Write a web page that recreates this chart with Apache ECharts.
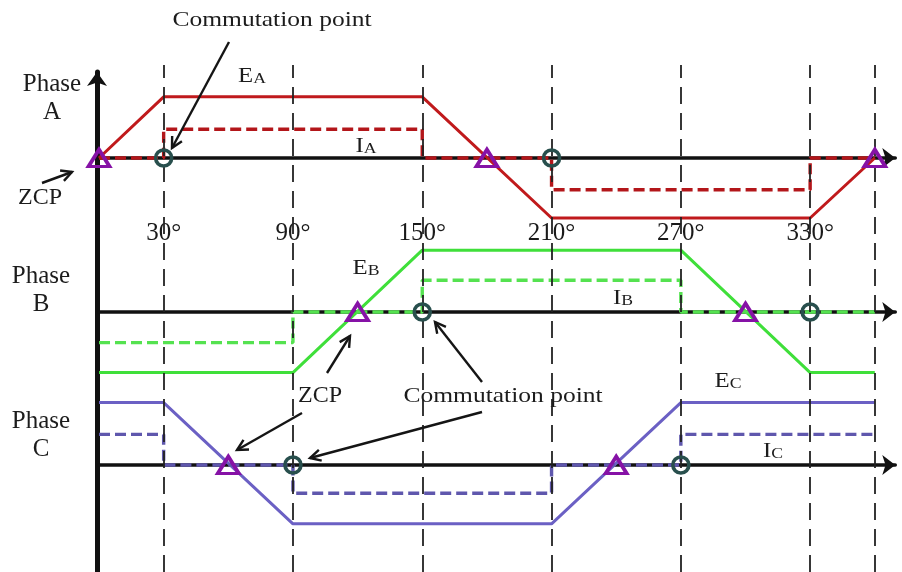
<!DOCTYPE html>
<html>
<head>
<meta charset="utf-8">
<script src="https://cdn.jsdelivr.net/npm/echarts@6/dist/echarts.min.js"></script>
<style>
  html, body { margin: 0; padding: 0; background: #ffffff; }
  #chart { width: 902px; height: 572px; }
</style>
</head>
<body>
<div id="chart"></div>
<script>
// Back-EMF breakpoints: electrical angle (deg) and level (per unit)
const emfAnglesA = [0, 30, 150, 210, 330, 360];
const emfA       = [0, 1.02, 1.02, -1.0, -1.0, 0];
const emfAnglesB = [0, 90, 150, 270, 330, 360];
const emfB       = [-1.01, -1.01, 1.03, 1.03, -1.01, -1.01];
const emfAnglesC = [0, 30, 90, 210, 270, 360];
const emfC       = [1.04, 1.04, -0.98, -0.98, 1.04, 1.04];

// Phase currents, stepping at the commutation angles
const curAnglesA = [0, 30, 150, 210, 330, 360];
const curA       = [0, 0.48, 0, -0.53, 0, 0];
const curAnglesB = [0, 90, 150, 270, 360];
const curB       = [-0.51, 0, 0.53, 0, 0];
const curAnglesC = [0, 30, 90, 210, 270, 360];
const curC       = [0.51, 0, -0.47, 0, 0.51, 0.51];

// Back-EMF zero crossings (ZCP) and commutation points, in degrees
const zcpA  = [0, 180, 360];
const zcpB  = [120, 300];
const zcpC  = [60, 240];
const commA = [30, 210];
const commB = [150, 330];
const commC = [90, 270];

// Dashed reference angles and the angle tick labels
const refAngles  = [30, 90, 150, 210, 270, 330, 360];
const tickAngles = [30, 90, 150, 210, 270, 330];

// ---- layout ----
const X0 = 99;            // pixel of 0 deg
const PX_DEG = 2.155;     // pixels per degree
const X_END = 369.5;      // axis runs a bit past 360 deg to hold the arrow
const GRID_W = X_END * PX_DEG;
const Y_SPAN = 1.3;       // per-unit half range of each phase panel
const PX_UNIT = 60;
const baselines = [158, 312, 465];
const SERIF = "'Liberation Serif', 'Times New Roman', serif";

const phases = [
  { emfX: emfAnglesA, emf: emfA, curX: curAnglesA, cur: curA, zcp: zcpA, comm: commA,
    emfColor: '#c01a1c', curColor: '#b3161a' },
  { emfX: emfAnglesB, emf: emfB, curX: curAnglesB, cur: curB, zcp: zcpB, comm: commB,
    emfColor: '#3fdf3a', curColor: '#55e250' },
  { emfX: emfAnglesC, emf: emfC, curX: curAnglesC, cur: curC, zcp: zcpC, comm: commC,
    emfColor: '#6b60c4', curColor: '#5f57ad' }
];

const zip = (xs, ys) => xs.map((x, i) => [x, ys[i]]);

const grid = [], xAxis = [], yAxis = [], series = [];

phases.forEach((p, i) => {
  grid.push({ left: X0, width: GRID_W, top: baselines[i] - Y_SPAN * PX_UNIT, height: 2 * Y_SPAN * PX_UNIT });
  xAxis.push({
    gridIndex: i, type: 'value', min: 0, max: X_END,
    axisLine: { show: true, onZero: true, symbol: ['none', 'arrow'], symbolSize: [15, 13],
                lineStyle: { color: '#111', width: 3.5 } },
    axisTick: { show: false }, axisLabel: { show: false }, splitLine: { show: false }
  });
  yAxis.push({
    gridIndex: i, type: 'value', min: -Y_SPAN, max: Y_SPAN,
    axisLine: { show: false }, axisTick: { show: false }, axisLabel: { show: false }, splitLine: { show: false }
  });
  series.push({
    type: 'line', xAxisIndex: i, yAxisIndex: i, data: zip(p.emfX, p.emf),
    symbol: 'none', lineStyle: { color: p.emfColor, width: 3 }, z: 3, silent: true
  });
  series.push({
    type: 'line', xAxisIndex: i, yAxisIndex: i, data: zip(p.curX, p.cur), step: 'end',
    symbol: 'none', lineStyle: { color: p.curColor, width: 3.4, type: [11, 5] }, z: 4, silent: true
  });
  series.push({
    type: 'scatter', xAxisIndex: i, yAxisIndex: i, data: p.zcp.map(a => [a, 0]),
    symbol: 'triangle', symbolSize: [21, 17],
    itemStyle: { color: 'rgba(0,0,0,0)', borderColor: '#8612a6', borderWidth: 3.6, opacity: 1 },
    z: 6, silent: true
  });
  series.push({
    type: 'scatter', xAxisIndex: i, yAxisIndex: i, data: p.comm.map(a => [a, 0]),
    symbol: 'circle', symbolSize: 16,
    itemStyle: { color: 'rgba(0,0,0,0)', borderColor: '#284f4d', borderWidth: 3.6, opacity: 1 },
    z: 6, silent: true
  });
});

// Panel 3: full-height dashed angle references
grid.push({ left: X0, width: GRID_W, top: 65, bottom: 0 });
xAxis.push({ gridIndex: 3, type: 'value', min: 0, max: X_END, show: false });
yAxis.push({ gridIndex: 3, type: 'value', min: 0, max: 1, show: false });
series.push({
  type: 'line', xAxisIndex: 3, yAxisIndex: 3, data: [[0, 0]], symbol: 'none',
  lineStyle: { opacity: 0 }, silent: true, z: 1,
  markLine: {
    silent: true, symbol: ['none', 'none'], label: { show: false },
    lineStyle: { color: '#222', width: 1.8, type: [17, 9] },
    emphasis: { disabled: true },
    data: refAngles.map(a => ({ xAxis: a }))
  }
});

// Panel 4: vertical axis with arrow
grid.push({ left: 97, width: 10, top: 72, bottom: 0 });
xAxis.push({ gridIndex: 4, type: 'value', min: 0, max: 1, show: false });
yAxis.push({
  gridIndex: 4, type: 'value', min: 0, max: 1, position: 'left',
  axisLine: { show: true, onZero: false, symbol: ['none', 'arrow'], symbolSize: [15, 14],
              lineStyle: { color: '#111', width: 5 } },
  axisTick: { show: false }, axisLabel: { show: false }, splitLine: { show: false }
});

// Panel 5: angle tick labels row
grid.push({ left: X0, width: GRID_W, top: 233, height: 10 });
xAxis.push({
  gridIndex: 5, type: 'value', min: 0, max: X_END, position: 'top',
  axisLine: { show: false }, axisTick: { show: false }, splitLine: { show: false },
  axisLabel: {
    show: true, customValues: tickAngles, margin: 0, verticalAlign: 'middle',
    formatter: v => v + '\u00b0', fontFamily: SERIF, fontSize: 25, color: '#1a1a1a'
  }
});
yAxis.push({ gridIndex: 5, type: 'value', min: 0, max: 1, show: false });

// ---- annotations ----
const INK = '#151515';
function text(x, y, str, size, sx) {
  return {
    type: 'text', x: x, y: y, scaleX: sx || 1, silent: true, z: 20,
    style: { text: str, fontFamily: SERIF, fontSize: size, fill: '#1c1c1c',
             align: 'center', verticalAlign: 'middle', lineHeight: 28 }
  };
}
function sub(x, y, big, small) {
  return {
    type: 'text', x: x, y: y, scaleX: 1.18, silent: true, z: 20,
    style: {
      text: '{b|' + big + '}{s|' + small + '}', align: 'center', verticalAlign: 'middle',
      rich: {
        b: { fontFamily: SERIF, fontSize: 21, fill: '#1c1c1c', verticalAlign: 'bottom' },
        s: { fontFamily: SERIF, fontSize: 15, fill: '#1c1c1c', verticalAlign: 'bottom' }
      }
    }
  };
}
function arrow(x1, y1, x2, y2) {
  const a = Math.atan2(y2 - y1, x2 - x1), L = 12, s = 0.48;
  const p1 = [x2 - L * Math.cos(a - s), y2 - L * Math.sin(a - s)];
  const p2 = [x2 - L * Math.cos(a + s), y2 - L * Math.sin(a + s)];
  return [
    { type: 'line', silent: true, z: 20, shape: { x1, y1, x2, y2 },
      style: { stroke: INK, lineWidth: 2.4 } },
    { type: 'polyline', silent: true, z: 20, shape: { points: [p1, [x2, y2], p2] },
      style: { stroke: INK, lineWidth: 2.4, fill: null } }
  ];
}

const graphic = [
  text(52, 98, 'Phase\nA', 25),
  text(41, 290, 'Phase\nB', 25),
  text(41, 435, 'Phase\nC', 25),
  text(272, 20, 'Commutation point', 22, 1.16),
  text(503, 396, 'Commutation point', 22, 1.16),
  text(40, 198, 'ZCP', 24),
  text(320, 396, 'ZCP', 24),
  sub(252, 76, 'E', 'A'),
  sub(366, 146, 'I', 'A'),
  sub(366, 268, 'E', 'B'),
  sub(623, 298, 'I', 'B'),
  sub(728, 381, 'E', 'C'),
  sub(773, 451, 'I', 'C'),
  ...arrow(229, 42, 172, 148),
  ...arrow(42, 183, 72, 172),
  ...arrow(327, 373, 350, 336),
  ...arrow(302, 413, 237, 450),
  ...arrow(482, 382, 435, 322),
  ...arrow(482, 412, 310, 458)
];

const chart = echarts.init(document.getElementById('chart'), null, { renderer: 'canvas' });
chart.setOption({
  animation: false,
  backgroundColor: '#ffffff',
  grid, xAxis, yAxis, series, graphic
});
</script>
</body>
</html>
